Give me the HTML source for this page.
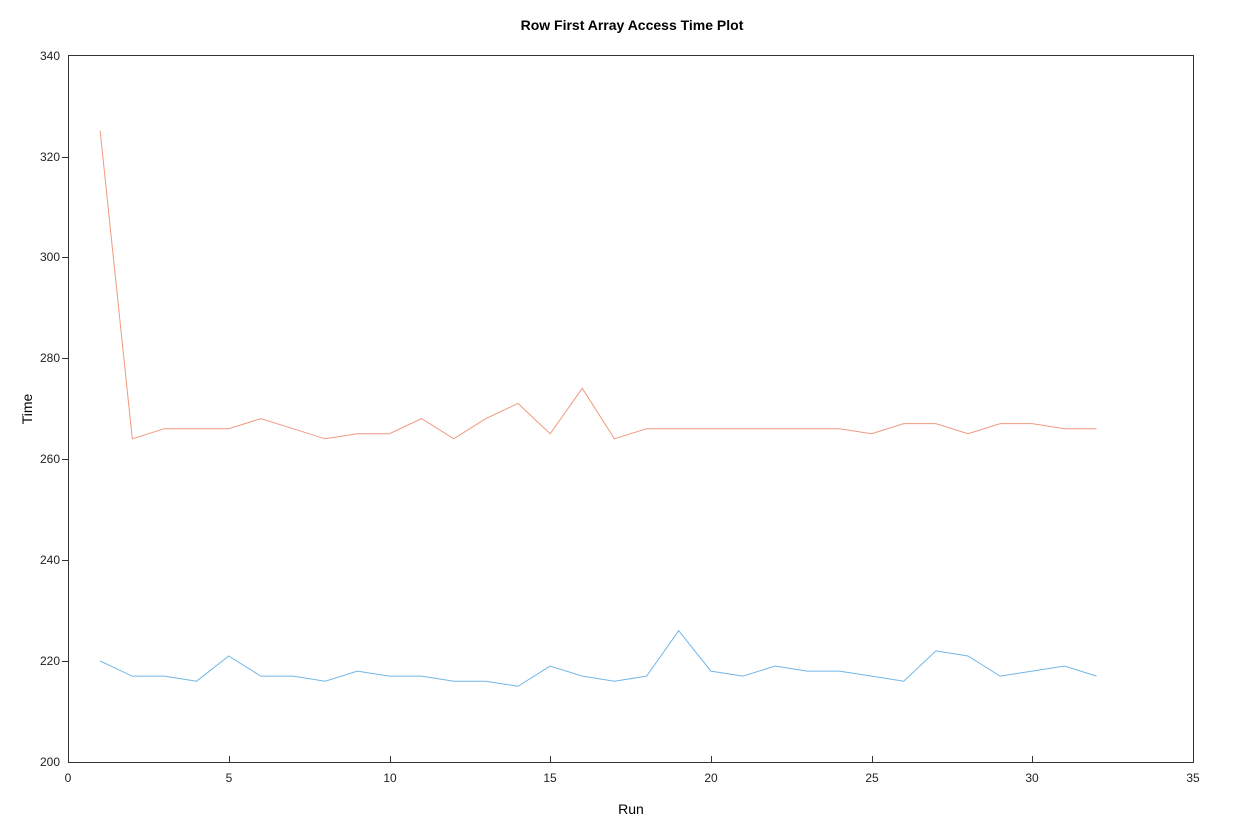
<!DOCTYPE html>
<html><head><style>
body{margin:0;background:#fff;}
svg{display:block;font-family:"Liberation Sans",sans-serif;}
</style></head><body>
<svg width="1241" height="837" viewBox="0 0 1241 837">
<rect width="1241" height="837" fill="#fff"/>
<text x="632" y="30" text-anchor="middle" font-size="14" font-weight="bold">Row First Array Access Time Plot</text>
<rect x="68.5" y="55.5" width="1125" height="707" fill="none" stroke="#333" stroke-width="1"/>
<g stroke="#333" stroke-width="1">
<path d="M229.5 762v-6M390.5 762v-6M550.5 762v-6M711.5 762v-6M872.5 762v-6M1032.5 762v-6"/>
<path d="M68 157.5h-6M68 257.5h-6M68 358.5h-6M68 459.5h-6M68 560.5h-6M68 661.5h-6"/>
</g>
<g font-size="12" fill="#222" text-anchor="middle">
<text x="68" y="782">0</text><text x="229" y="782">5</text><text x="390" y="782">10</text><text x="550" y="782">15</text><text x="711" y="782">20</text><text x="872" y="782">25</text><text x="1032" y="782">30</text><text x="1193" y="782">35</text>
</g>
<g font-size="12" fill="#222" text-anchor="end">
<text x="60" y="766">200</text><text x="60" y="665">220</text><text x="60" y="564">240</text><text x="60" y="463">260</text><text x="60" y="362">280</text><text x="60" y="261">300</text><text x="60" y="161">320</text><text x="60" y="60">340</text>
</g>
<text x="631" y="814" text-anchor="middle" font-size="14">Run</text>
<text transform="translate(32,409) rotate(-90)" text-anchor="middle" font-size="14">Time</text>
<g transform="translate(68,762) scale(32.143,-5.05)">
<polyline fill="none" stroke="#f09a80" stroke-width="1" vector-effect="non-scaling-stroke" points="1,125 2,64 3,66 4,66 5,66 6,68 7,66 8,64 9,65 10,65 11,68 12,64 13,68 14,71 15,65 16,74 17,64 18,66 19,66 20,66 21,66 22,66 23,66 24,66 25,65 26,67 27,67 28,65 29,67 30,67 31,66 32,66"/>
<polyline fill="none" stroke="#72b6e6" stroke-width="1" vector-effect="non-scaling-stroke" points="1,20 2,17 3,17 4,16 5,21 6,17 7,17 8,16 9,18 10,17 11,17 12,16 13,16 14,15 15,19 16,17 17,16 18,17 19,26 20,18 21,17 22,19 23,18 24,18 25,17 26,16 27,22 28,21 29,17 30,18 31,19 32,17"/>
</g>
</svg>
</body></html>
